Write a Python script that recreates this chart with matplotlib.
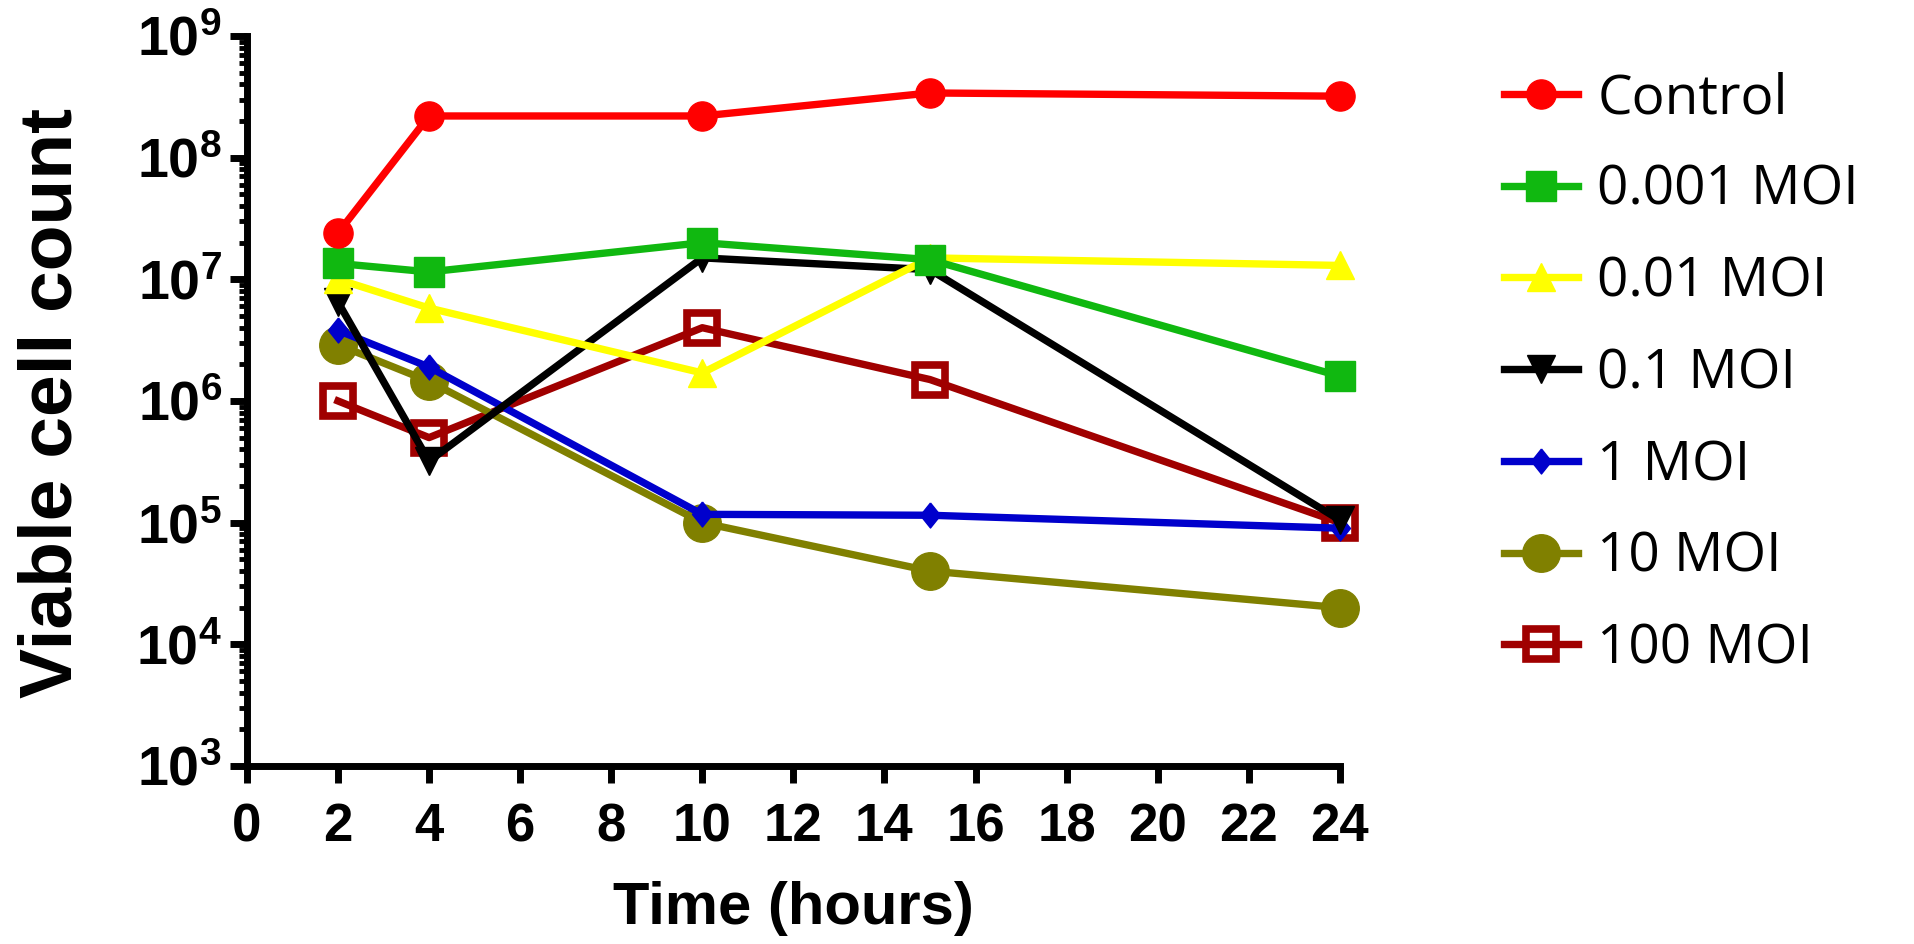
import matplotlib
matplotlib.use("Agg")
import matplotlib.pyplot as plt
from matplotlib.ticker import LogLocator, NullFormatter, FixedLocator

plt.rcParams["font.family"] = ["Liberation Sans", "DejaVu Sans"]
plt.rcParams["mathtext.fontset"] = "custom"
plt.rcParams["mathtext.rm"] = "Liberation Sans:bold"
plt.rcParams["mathtext.bf"] = "Liberation Sans:bold"
plt.rcParams["mathtext.it"] = "Liberation Sans:bold"

# data
time_h = [2, 4, 10, 15, 24]
control = [2.4e7, 2.2e8, 2.2e8, 3.4e8, 3.2e8]
moi_0001 = [1.35e7, 1.15e7, 2.0e7, 1.45e7, 1.6e6]
moi_001 = [1.0e7, 5.8e6, 1.7e6, 1.5e7, 1.3e7]
moi_01 = [6.5e6, 3.2e5, 1.5e7, 1.2e7, 1.05e5]
moi_1 = [3.8e6, 1.9e6, 1.17e5, 1.15e5, 9.0e4]
moi_10 = [2.9e6, 1.45e6, 1.0e5, 4.0e4, 2.0e4]
moi_100 = [1.0e6, 5.0e5, 4.0e6, 1.5e6, 1.0e5]

labels = ["Control", "0.001 MOI", "0.01 MOI", "0.1 MOI", "1 MOI", "10 MOI", "100 MOI"]
xticks = list(range(0, 25, 2))
yticks = [1e3, 1e4, 1e5, 1e6, 1e7, 1e8, 1e9]
ytick_labels = [r"$\mathbf{10^{3}}$", r"$\mathbf{10^{4}}$", r"$\mathbf{10^{5}}$",
                r"$\mathbf{10^{6}}$", r"$\mathbf{10^{7}}$", r"$\mathbf{10^{8}}$",
                r"$\mathbf{10^{9}}$"]

series = [control, moi_0001, moi_001, moi_01, moi_1, moi_10, moi_100]
diamond = [(0, 1), (0.8, 0), (0, -1), (-0.8, 0), (0, 1)]
styles = [
    dict(color="#FF0000", marker="o", ms=21),
    dict(color="#10B810", marker="s", ms=21),
    dict(color="#FFFF00", marker="^", ms=20),
    dict(color="#000000", marker="v", ms=20),
    dict(color="#0000CC", marker=diamond, ms=18),
    dict(color="#808000", marker="o", ms=27),
    dict(color="#A00000", marker="s", ms=22, mfc="none", mew=5.5),
]

fig = plt.figure(figsize=(19.14, 9.44), dpi=100)
ax = fig.add_axes([0.129, 0.1886, 0.571, 0.7733])

handles = [None] * len(series)
for i in reversed(range(len(series))):
    st = dict(styles[i])
    ln, = ax.plot(time_h, series[i], lw=5.3, clip_on=False, label=labels[i], **st)
    handles[i] = ln

ax.set_yscale("log")
ax.set_xlim(0, 24)
ax.set_ylim(1e3, 1e9)
ax.set_xticks(xticks)
ax.set_xticklabels([str(t) for t in xticks])
ax.yaxis.set_major_locator(FixedLocator(yticks))
ax.set_yticklabels(ytick_labels)
ax.yaxis.set_minor_locator(LogLocator(base=10, subs=range(2, 10)))
ax.yaxis.set_minor_formatter(NullFormatter())

for s in ["top", "right"]:
    ax.spines[s].set_visible(False)
for s in ["left", "bottom"]:
    ax.spines[s].set_linewidth(5)

ax.tick_params(axis="x", which="major", length=12, width=5, pad=14,
               labelsize=38)
ax.tick_params(axis="y", which="major", length=12, width=5, pad=6,
               labelsize=40)
ax.tick_params(axis="y", which="minor", length=6, width=3.5)
for lab in ax.get_xticklabels():
    lab.set_fontweight("bold")

fig.text(793 / 1914, 1 - 909 / 944, "Time (hours)", ha="center", va="center",
         fontsize=43, fontweight="bold")
fig.text(52 / 1914, 1 - 403 / 944, "Viable cell count", ha="center", va="center",
         rotation=90, fontsize=54, fontweight="bold")

leg = fig.legend(handles=handles, labels=labels, loc="upper left",
                 bbox_to_anchor=(1504 / 1914, 1 - 71 / 944), frameon=False,
                 borderpad=0, borderaxespad=0, handlelength=1.35,
                 handletextpad=0.35, labelspacing=0.67,
                 prop={"family": ["Open Sans", "DejaVu Sans"], "size": 39.5})

fig.savefig("out.png", dpi=100)
